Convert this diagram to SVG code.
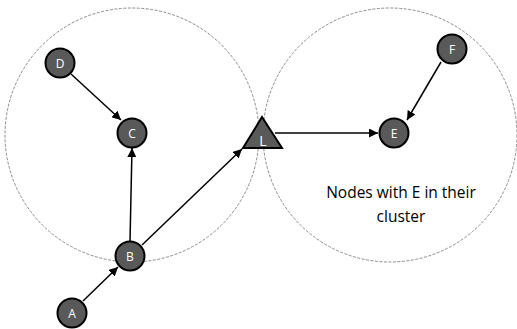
<svg xmlns="http://www.w3.org/2000/svg" width="517" height="329" viewBox="0 0 517 329">
<style>
.cl{fill:none;stroke:#8c8c8c;stroke-width:1;stroke-dasharray:3 1.5}
.n{fill:#595959;stroke:#000;stroke-width:2}
.t{fill:#fff;font-family:"Open Sans",sans-serif;font-size:12px;text-anchor:middle}
.e{stroke:#000;stroke-width:1.5;fill:none;marker-end:url(#ah)}
.lbl{fill:#000;font-family:"Open Sans",sans-serif;font-size:15.5px;text-anchor:middle}
</style>
<defs>
<marker id="ah" viewBox="0 0 10 10" refX="10" refY="5" markerWidth="9" markerHeight="9" markerUnits="userSpaceOnUse" orient="auto">
<path d="M0,0 L10,5 L0,10 z" fill="#000"/>
</marker>
</defs>
<rect width="517" height="329" fill="#fff"/>
<g id="clusters">
<circle class="cl" cx="132" cy="135" r="127"/>
<circle class="cl" cx="390" cy="135" r="127"/>
</g>
<g id="connectors">
<line class="e" x1="71" y1="74" x2="121" y2="120"/>
<line class="e" x1="130" y1="241" x2="132" y2="148"/>
<line class="e" x1="142" y1="245" x2="242" y2="149"/>
<line class="e" x1="83" y1="301" x2="118" y2="267"/>
<line class="e" x1="275" y1="133" x2="378" y2="133"/>
<line class="e" x1="441" y1="62" x2="407" y2="120"/>
</g>
<g id="node-D"><circle class="n" cx="60" cy="63" r="14.5"/><text class="t" x="60" y="67.5">D</text></g>
<g id="node-C"><circle class="n" cx="132" cy="133" r="14.5"/><text class="t" x="132" y="137.5">C</text></g>
<g id="node-B"><circle class="n" cx="130" cy="256" r="14.5"/><text class="t" x="130" y="260.5">B</text></g>
<g id="node-A"><circle class="n" cx="72" cy="313" r="14.5"/><text class="t" x="72" y="317.5">A</text></g>
<g id="node-L"><polygon class="n" points="262,117 282,148 243,148"/><text class="t" x="263" y="146" style="font-size:14px">L</text></g>
<g id="node-E"><circle class="n" cx="394" cy="133" r="14.5"/><text class="t" x="394" y="137.5">E</text></g>
<g id="node-F"><circle class="n" cx="452" cy="49" r="14.5"/><text class="t" x="452" y="53.5">F</text></g>
<g id="note"><text class="lbl" x="401" y="198">Nodes with E in their</text><text class="lbl" x="401" y="222">cluster</text></g>
</svg>
